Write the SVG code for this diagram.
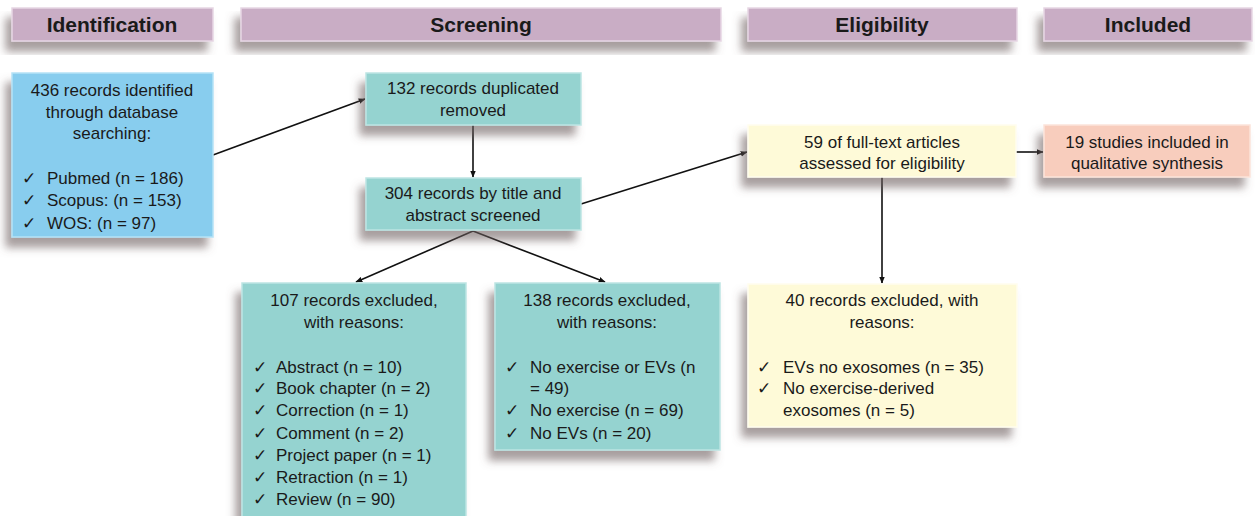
<svg xmlns="http://www.w3.org/2000/svg" width="1255" height="516" viewBox="0 0 1255 516">
<style>
  .hdr { fill: #C9ADC5; stroke: #E6D6E3; stroke-width: 1.5; }
  .htxt { font-family: "Liberation Sans", Arial, sans-serif; font-weight: bold; font-size: 21px; fill: #1a1a1a; text-anchor: middle; }
  .t { font-family: "Liberation Sans", Arial, sans-serif; font-size: 17px; fill: #1a1a1a; }
  .c { text-anchor: middle; }
  .ck { font-family: "DejaVu Sans", sans-serif; font-size: 17px; fill: #1a1a1a; }
  .blue { fill: #88CDEE; stroke: #B5E2F6; stroke-width: 1.5; }
  .teal { fill: #95D3D0; stroke: #BDE5E3; stroke-width: 1.5; }
  .yel { fill: #FEFAD8; stroke: #FFFDEE; stroke-width: 1.5; }
  .sal { fill: #F8CDBD; stroke: #FCE3DA; stroke-width: 1.5; }
  .conn { stroke: #111; stroke-width: 1.6; fill: none; marker-end: url(#arr); }
</style>
<defs>
  <filter id="sh" x="-20%" y="-20%" width="140%" height="160%">
    <feGaussianBlur in="SourceAlpha" stdDeviation="4.5"/>
    <feOffset dx="-6" dy="10" result="b"/>
    <feFlood flood-color="#6e5f5f" flood-opacity="0.6"/>
    <feComposite in2="b" operator="in"/>
    <feMerge><feMergeNode/><feMergeNode in="SourceGraphic"/></feMerge>
  </filter>
  <marker id="arr" viewBox="0 0 10 10" refX="9" refY="5" markerWidth="7" markerHeight="7" orient="auto" markerUnits="userSpaceOnUse">
    <path d="M0,1 L10,5 L0,9 z" fill="#111"/>
  </marker>
</defs>
<rect width="1255" height="516" fill="#ffffff"/>

<g id="hdr-identification">
  <rect class="hdr" x="12" y="8" width="201" height="33" filter="url(#sh)"/>
  <text class="htxt" x="112" y="32">Identification</text>
</g>
<g id="hdr-screening">
  <rect class="hdr" x="241" y="8" width="480" height="33" filter="url(#sh)"/>
  <text class="htxt" x="481" y="32">Screening</text>
</g>
<g id="hdr-eligibility">
  <rect class="hdr" x="748" y="8" width="269" height="33" filter="url(#sh)"/>
  <text class="htxt" x="882" y="32">Eligibility</text>
</g>
<g id="hdr-included">
  <rect class="hdr" x="1044" y="8" width="208" height="33" filter="url(#sh)"/>
  <text class="htxt" x="1148" y="32">Included</text>
</g>

<g id="connectors">
  <line class="conn" x1="213" y1="155" x2="365" y2="99"/>
  <line class="conn" x1="473" y1="125" x2="473" y2="177"/>
  <line class="conn" x1="581" y1="204" x2="747" y2="152"/>
  <line class="conn" x1="1016" y1="152" x2="1043" y2="152"/>
  <line class="conn" x1="882" y1="177" x2="882" y2="283"/>
  <line class="conn" x1="473" y1="231" x2="356" y2="282"/>
  <line class="conn" x1="473" y1="231" x2="605" y2="282"/>
</g>

<g id="n-identified">
  <rect class="blue" x="12" y="73" width="201" height="164" filter="url(#sh)"/>
  <text class="t c" x="112" y="96">436 records identified</text>
  <text class="t c" x="112" y="118">through  database</text>
  <text class="t c" x="112" y="139">searching:</text>
  <text class="ck" x="22" y="184">✓</text><text class="t" x="47" y="184">Pubmed  (n = 186)</text>
  <text class="ck" x="22" y="206">✓</text><text class="t" x="47" y="206">Scopus: (n = 153)</text>
  <text class="ck" x="22" y="229">✓</text><text class="t" x="47" y="229">WOS: (n = 97)</text>
</g>

<g id="n-duplicates">
  <rect class="teal" x="366" y="73" width="215" height="52" filter="url(#sh)"/>
  <text class="t c" x="473" y="94">132 records duplicated</text>
  <text class="t c" x="473" y="116">removed</text>
</g>

<g id="n-screened">
  <rect class="teal" x="366" y="178" width="215" height="52" filter="url(#sh)"/>
  <text class="t c" x="473" y="199">304 records by title and</text>
  <text class="t c" x="473" y="221">abstract screened</text>
</g>

<g id="n-excluded107">
  <rect class="teal" x="242" y="283" width="224" height="240" filter="url(#sh)"/>
  <text class="t c" x="354" y="306">107 records excluded,</text>
  <text class="t c" x="354" y="328">with reasons:</text>
  <text class="ck" x="253" y="373">✓</text><text class="t" x="276" y="373">Abstract (n = 10)</text>
  <text class="ck" x="253" y="394">✓</text><text class="t" x="276" y="394">Book chapter (n = 2)</text>
  <text class="ck" x="253" y="416">✓</text><text class="t" x="276" y="416">Correction (n = 1)</text>
  <text class="ck" x="253" y="439">✓</text><text class="t" x="276" y="439">Comment  (n = 2)</text>
  <text class="ck" x="253" y="461">✓</text><text class="t" x="276" y="461">Project paper (n = 1)</text>
  <text class="ck" x="253" y="483">✓</text><text class="t" x="276" y="483">Retraction (n = 1)</text>
  <text class="ck" x="253" y="505">✓</text><text class="t" x="276" y="505">Review (n = 90)</text>
</g>

<g id="n-excluded138">
  <rect class="teal" x="495" y="283" width="225" height="167" filter="url(#sh)"/>
  <text class="t c" x="607" y="306">138 records excluded,</text>
  <text class="t c" x="607" y="328">with reasons:</text>
  <text class="ck" x="505" y="373">✓</text><text class="t" x="530" y="373">No exercise or EVs (n</text>
  <text class="t" x="530" y="394">= 49)</text>
  <text class="ck" x="505" y="416">✓</text><text class="t" x="530" y="416">No exercise (n = 69)</text>
  <text class="ck" x="505" y="439">✓</text><text class="t" x="530" y="439">No EVs (n = 20)</text>
</g>

<g id="n-fulltext">
  <rect class="yel" x="748" y="125" width="268" height="52" filter="url(#sh)"/>
  <text class="t c" x="882" y="148">59 of full-text  articles</text>
  <text class="t c" x="882" y="169">assessed for eligibility</text>
</g>

<g id="n-included">
  <rect class="sal" x="1044" y="125" width="206" height="52" filter="url(#sh)"/>
  <text class="t c" x="1147" y="148">19 studies included  in</text>
  <text class="t c" x="1147" y="169">qualitative synthesis</text>
</g>

<g id="n-excluded40">
  <rect class="yel" x="748" y="284" width="269" height="143" filter="url(#sh)"/>
  <text class="t c" x="882" y="306">40 records excluded,  with</text>
  <text class="t c" x="882" y="328">reasons:</text>
  <text class="ck" x="757" y="373">✓</text><text class="t" x="783" y="373">EVs no exosomes (n = 35)</text>
  <text class="ck" x="757" y="394">✓</text><text class="t" x="783" y="394">No exercise-derived</text>
  <text class="t" x="783" y="416">exosomes (n = 5)</text>
</g>
</svg>
